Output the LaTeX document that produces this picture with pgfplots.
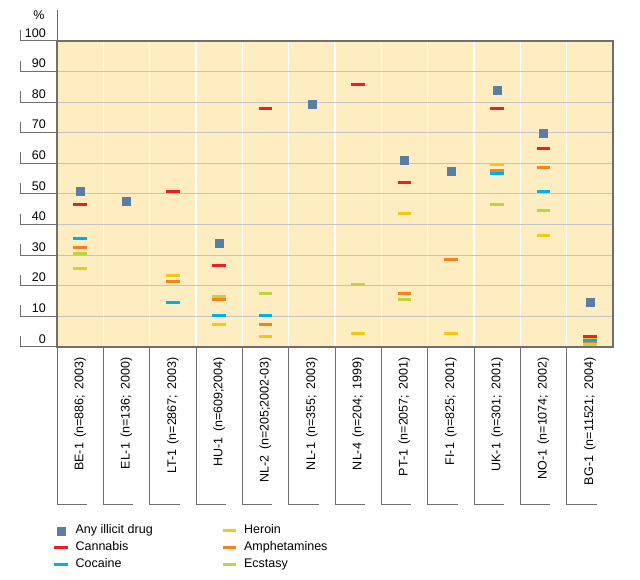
\documentclass[border=0pt]{standalone}
\usepackage{fontspec}
\setmainfont{Liberation Sans}
\usepackage{pgfplots}
\pgfplotsset{compat=1.18}
\definecolor{cream}{HTML}{FDEDC0}
\definecolor{gridgray}{HTML}{C4C4C4}
\definecolor{axgray}{HTML}{6E6E6E}
\definecolor{anyc}{HTML}{5B7DA4}
\definecolor{canc}{HTML}{E8202A}
\definecolor{cocc}{HTML}{00AEEF}
\definecolor{herc}{HTML}{F2C81A}
\definecolor{ampc}{HTML}{F58220}
\definecolor{ecsc}{HTML}{C0D440}
\pgfdeclareplotmark{dash}{\pgfpathrectangle{\pgfqpoint{-6.75pt}{-1.5pt}}{\pgfqpoint{13.5pt}{3pt}}\pgfusepathqfill}
\newcommand\gap{\hspace{5.5pt}}
\newcommand\chartfont{\fontsize{12.5pt}{15pt}\selectfont}
\begin{document}
\begin{tikzpicture}
\path[use as bounding box] (0,0) rectangle (640pt,580pt);
\begin{axis}[
  at={(57pt,233pt)}, anchor=south west,
  scale only axis, width=556pt, height=306pt,
  xmin=-0.5, xmax=11.5, ymin=0, ymax=100,
  axis background/.style={fill=cream},
  axis line style={draw=axgray, line width=1.1pt},
  xtick={0,...,11},
  xticklabels={{BE-1\gap(n=886;\gap2003)},{EL-1\gap(n=136;\gap2000)},{LT-1\gap(n=2867;\gap2003)},{HU-1\gap(n=609;2004)},{NL-2\gap(n=205;2002-03)},{NL-1\gap(n=355;\gap2003)},{NL-4\gap(n=204;\gap1999)},{PT-1\gap(n=2057;\gap2001)},{FI-1\gap(n=825;\gap2001)},{UK-1\gap(n=301;\gap2001)},{NO-1\gap(n=1074;\gap2002)},{BG-1\gap(n=11521;\gap2004)}},
  minor xtick={0.5,1.5,...,10.5},
  xminorgrids, minor x grid style={white, line width=1.5pt},
  ytick={0,10,...,100},
  ymajorgrids, major y grid style={gridgray, line width=1pt},
  tick style={draw=none},
  /pgf/number format/assume math mode=true,
  ticklabel style={font=\chartfont},
  xticklabel style={rotate=90, anchor=east, inner sep=0pt},
  xticklabel shift=10pt,
  yticklabel style={anchor=south east, inner sep=0pt, yshift=3.5pt},
  yticklabel shift=11pt,
  legend columns=2,
  legend cell align=left,
  legend style={at={(-0.005,-0.572)}, anchor=north west, draw=none, fill=none,
    font=\chartfont, inner sep=0pt,
    /tikz/every odd column/.append style={column sep=5pt},
    /tikz/every even column/.append style={column sep=67.5pt},
    nodes={text height=9pt, text depth=2.6pt, inner sep=2.7pt}},
]
\addplot[only marks, mark=square*, mark size=4pt, color=anyc] coordinates {
 (0,51) (1,47.8) (3,33.8) (5,79.2) (7,61.2) (8,57.6) (9,84) (10,69.9) (11,14.7)};
\addlegendentry{Any illicit drug}
\addplot[only marks, mark=dash, color=herc] coordinates {
 (0,25.7) (2,23.4) (3,7.4) (4,3.5) (6,4.5) (7,43.7) (8,4.5) (9,59.7) (10,36.5) (11,2.8)};
\addlegendentry{Heroin}
\addplot[only marks, mark=dash, color=canc] coordinates {
 (0,46.6) (2,50.9) (3,26.7) (4,78) (6,85.8) (7,53.8) (9,78) (10,64.9) (11,3.5)};
\addlegendentry{Cannabis}
\addplot[only marks, mark=dash, color=ampc] coordinates {
 (0,32.6) (2,21.5) (3,15.6) (4,7.4) (7,17.5) (8,28.7) (9,57.7) (10,58.7) (11,1.5)};
\addlegendentry{Amphetamines}
\addplot[only marks, mark=dash, color=cocc] coordinates {
 (0,35.5) (2,14.6) (3,10.4) (4,10.4) (9,56.8) (10,50.9) (11,2.2)};
\addlegendentry{Cocaine}
\addplot[only marks, mark=dash, color=ecsc] coordinates {
 (0,30.6) (3,16.6) (4,17.5) (6,20.5) (7,15.6) (9,46.6) (10,44.7) (11,0.9)};
\addlegendentry{Ecstasy}
\end{axis}
\begin{scope}[draw=axgray, line width=1pt]
  \draw (57pt,539pt) -- (57pt,570pt);
  \foreach \i in {0,...,11} {
    \draw ({57pt+\i*46.333pt},233pt) -- ({57pt+\i*46.333pt},75pt) -- ({87pt+\i*46.333pt},75pt);
  }
  \foreach \v in {0,...,10} {
    \draw (57pt,{233pt+\v*30.6pt}) -- (20.5pt,{233pt+\v*30.6pt}) -- ++(0,11pt);
  }
\end{scope}
\node at (39pt,565pt) {\chartfont\%};
\end{tikzpicture}
\end{document}
